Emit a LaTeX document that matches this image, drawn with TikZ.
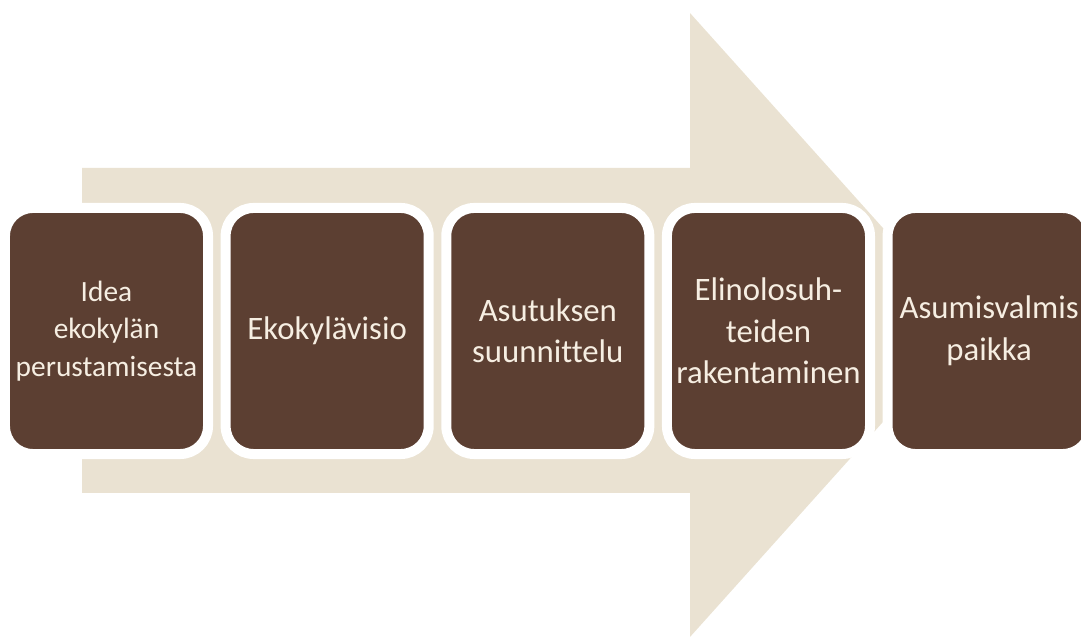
\documentclass[tikz,border=0pt]{standalone}
\usepackage{fontspec}
\setmainfont[Ligatures=NoCommon]{Carlito}
\usetikzlibrary{positioning}
\definecolor{bark}{RGB}{92,63,50}
\definecolor{sand}{RGB}{234,226,210}
\definecolor{cream}{RGB}{246,238,226}

\begin{document}
\begin{tikzpicture}[x=0.025cm,y=0.025cm,
    stage/.style={draw=white,line width=0.25cm,fill=bark,rounded corners=0.7cm,outer sep=0pt,
      minimum width=5.075cm,minimum height=6.15cm,align=center,text=cream,
      font=\fontsize{23.3}{29.5}\selectfont}]
    \useasboundingbox (0,0) rectangle (1081,638);
    % the broad arrow behind the steps
    \fill[sand] (82,470) -- (690,470) -- (690,625) -- (970,313) -- (690,1) -- (690,145) -- (82,145) -- cycle;
    \node[stage,font=\fontsize{20.9}{26.5}\selectfont] (idea) at (106.5,307) {Idea\\ekokylän\\perustamisesta};
    \node[stage,right=0.44cm of idea] (visio) {Ekokylävisio};
    \node[stage,right=0.44cm of visio] (suunn) {Asutuksen\\suunnittelu};
    \node[stage,right=0.44cm of suunn] (raken) {Elinolosuh-\\teiden\\rakentaminen};
    \node[stage,right=0.44cm of raken] (paikka) {Asumisvalmis\\paikka};
\end{tikzpicture}
\end{document}
